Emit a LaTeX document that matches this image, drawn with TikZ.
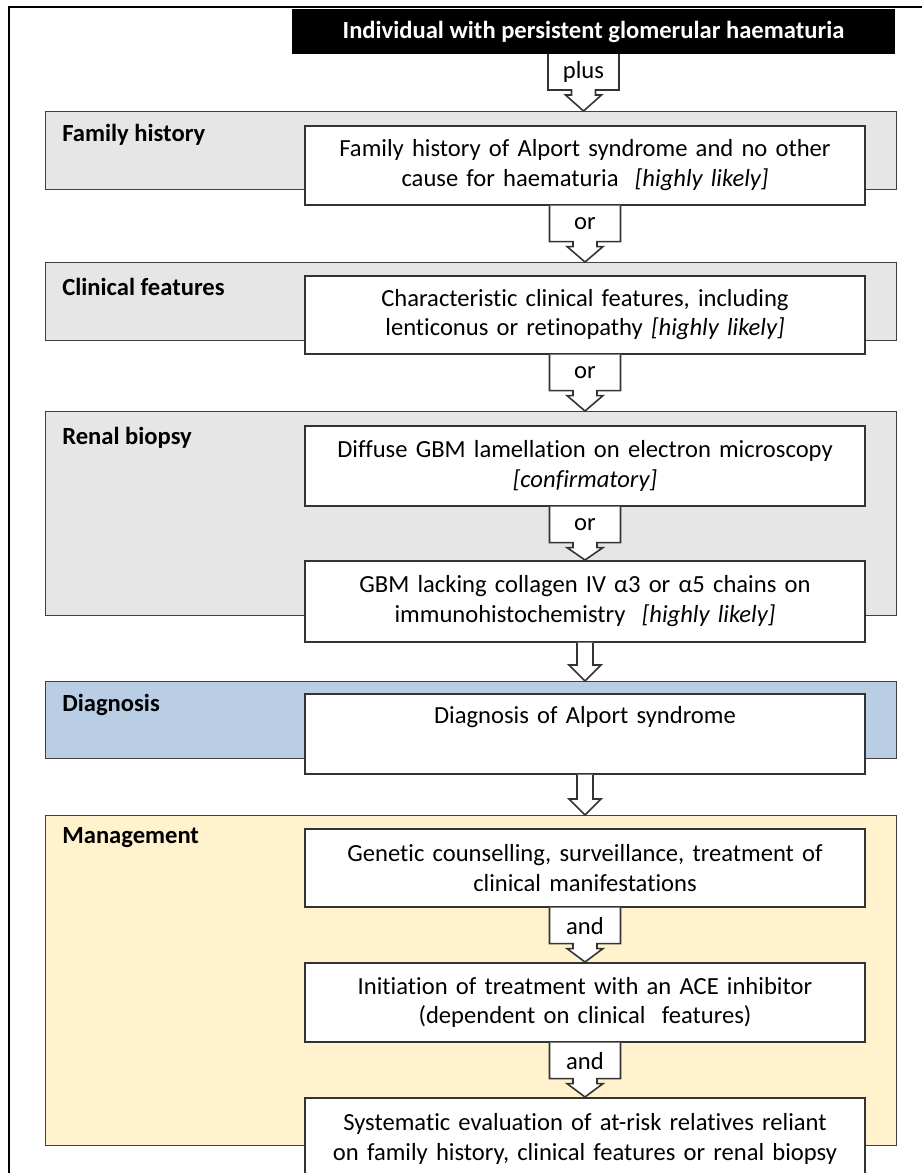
\documentclass[tikz,border=0pt]{standalone}
\usepackage{fontspec}
\setmainfont{Carlito}[Ligatures=NoCommon]
\usetikzlibrary{calc}

\definecolor{panelgray}{RGB}{230,230,230}
\definecolor{diagblue}{RGB}{185,205,229}
\definecolor{mgmtyellow}{RGB}{255,242,204}

\newcommand{\boxfont}{\fontsize{14}{16.8}\selectfont}

\tikzset{
  panel/.style={draw=black!75, line width=0.8pt, anchor=north west, minimum width=17.02cm, inner sep=0pt},
  paneltitle/.style={anchor=west, font=\boxfont\bfseries, inner sep=0pt},
  whitebox/.style={draw=black!80, fill=white, line width=0.9pt, anchor=north, minimum width=11.2cm,
    text width=10.9cm, align=center, inner sep=0pt},
  topbox/.style={fill=black, text=white, font=\boxfont\bfseries, minimum width=12.06cm, minimum height=0.9cm, inner sep=0pt},
  callline/.style={draw=black!80, fill=white, line width=0.9pt},
}

% callout box with arrow: #1 name, #2 text, #3 top point, #4 target node
\newcommand{\callout}[4]{%
  \draw[callline] ($(#3)+(-35.5,0)$) -- ++(0,36) -- ++(23.5,0) -- ++(0,5) -- ++(-6,0)
    -- (#3 |- #4.north) -- ($(#3)+(18,41)$) -- ++(-6,0) -- ++(0,-5) -- ++(23.5,0) -- ++(0,-36);
  \node[inner sep=0pt] (#1) at ($(#3)+(0,18)$) {#2};
}
% plain block arrow: #1 start point, #2 target node
\newcommand{\blockarrow}[2]{%
  \draw[callline] ($(#1)+(-8,0)$) -- ($(#1 |- #2.north)+(-8,-16)$) -- ++(-8,0) -- (#1 |- #2.north)
    -- ++(16,-16) -- ++(-8,0) -- ($(#1)+(8,0)$);
}

\begin{document}
\begin{tikzpicture}[x=0.02cm, y=-0.02cm, font=\boxfont]
    \useasboundingbox (0,0) rectangle (922,1173);
    % Rahmen
    \draw[line width=1.2pt] (9,1173) -- (9,7) -- (922,7);
    % Startbox
    \node[topbox] (top) at (593.5,31.5) {Individual with persistent glomerular haematuria};
    \coordinate (plustop) at (583.5,54);
    % Felder
    \node[panel, fill=panelgray, minimum height=1.56cm] (famp) at (45,111) {};
    \node[panel, fill=panelgray, minimum height=1.56cm] (clinp) at (45,262) {};
    \node[panel, fill=panelgray, minimum height=4.08cm] (renp) at (45,411) {};
    \node[panel, fill=diagblue, minimum height=1.54cm] (diagp) at (45,681) {};
    \node[panel, fill=mgmtyellow, minimum height=6.6cm] (mgmtp) at (45,815) {};
    \node[paneltitle] (famt) at (62,135) {Family history};
    \node[paneltitle] (clint) at (62,287) {Clinical features};
    \node[paneltitle] (rent) at (62,438) {Renal biopsy};
    \node[paneltitle] (diagt) at (62,705) {Diagnosis};
    \node[paneltitle] (mgmtt) at (62,838) {Management};
    % Kriterien
    \node[whitebox, minimum height=1.58cm] (fam) at (585,125)
      {Family history of Alport syndrome and no other\\cause for haematuria \ \textit{[highly likely]}};
    \node[whitebox, minimum height=1.56cm] (clin) at (585,275)
      {Characteristic clinical features, including\\lenticonus or retinopathy \textit{[highly likely]}};
    \node[whitebox, minimum height=1.6cm] (diff) at (585,425)
      {Diffuse GBM lamellation on electron microscopy\\\textit{[confirmatory]}};
    \node[whitebox, minimum height=1.62cm] (gbm) at (585,560)
      {GBM lacking collagen IV α3 or α5 chains on\\immunohistochemistry \ \textit{[highly likely]}};
    \node[whitebox, minimum height=1.6cm] (diag) at (585,693)
      {Diagnosis of Alport syndrome\\\strut};
    \node[whitebox, minimum height=1.56cm] (gen) at (585,828)
      {Genetic counselling, surveillance, treatment of\\clinical manifestations};
    \node[whitebox, minimum height=1.58cm] (init) at (585,962)
      {Initiation of treatment with an ACE inhibitor\\(dependent on clinical \ features)};
    \node[whitebox, minimum height=1.64cm] (sys) at (585,1097)
      {Systematic evaluation of at-risk relatives reliant\\on family history, clinical features or renal biopsy};
    % Pfeile
    \callout{plus}{plus}{plustop}{famp}
    \callout{or1}{or}{fam.south}{clinp}
    \callout{or2}{or}{clin.south}{renp}
    \callout{or3}{or}{diff.south}{gbm}
    \blockarrow{gbm.south}{diagp}
    \blockarrow{diag.south}{mgmtp}
    \callout{and1}{and}{gen.south}{init}
    \callout{and2}{and}{init.south}{sys}
\end{tikzpicture}
\end{document}
